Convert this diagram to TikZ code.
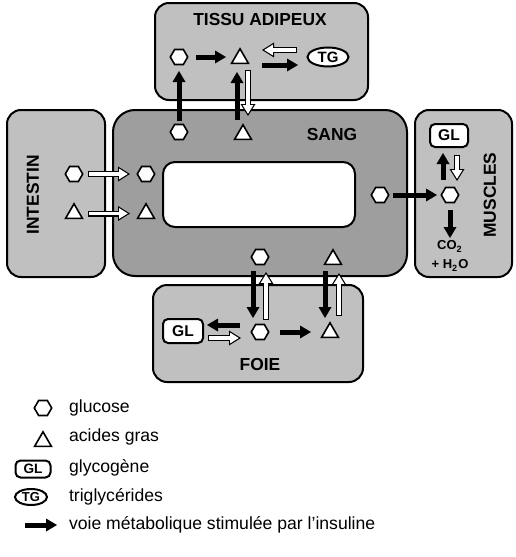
\documentclass[tikz,border=0pt]{standalone}
\usepackage{fontspec}
\setmainfont{Liberation Sans}
\usetikzlibrary{shapes.geometric,arrows.meta,positioning}

\definecolor{organgray}{RGB}{192,192,192}
\definecolor{bloodgray}{RGB}{158,158,158}

\begin{document}
\begin{tikzpicture}[
    x=0.5pt, y=-0.5pt,
    % Block styles
    organ/.style={
        rectangle,
        draw=black,
        line width=1pt,
        fill=organgray,
        rounded corners=7pt
    },
    blood/.style={
        rectangle,
        draw=black,
        line width=1pt,
        fill=bloodgray,
        rounded corners=11pt
    },
    label/.style={font=\bfseries\fontsize{8.7}{10}\selectfont},
    legtext/.style={anchor=west, font=\fontsize{8.8}{10}\selectfont},
    % Molecule styles
    gluc/.style={regular polygon, regular polygon sides=6, draw, line width=0.8pt,
        fill=white, minimum size=8.7pt, inner sep=0pt},
    fatty/.style={regular polygon, regular polygon sides=3, draw, line width=0.8pt,
        fill=white, minimum size=9.7pt, inner sep=0pt},
    glyco/.style={rectangle, draw, line width=1pt, fill=white, rounded corners=2.5pt,
        minimum width=19pt, minimum height=11.5pt, inner sep=0pt,
        font=\bfseries\fontsize{7.8}{8}\selectfont},
    trigly/.style={ellipse, draw, line width=1pt, fill=white, minimum width=20.5pt,
        minimum height=9.5pt, inner sep=0pt, font=\bfseries\fontsize{7.5}{8}\selectfont},
    % Arrow styles
    insulin/.style={draw, line width=2.5pt, -{Triangle[length=5.5pt,width=6.5pt,line width=0pt]}},
    plain/.style={draw=white, line width=1.8pt, shorten >=1.13pt, shorten <=0.6pt,
        -{Triangle[length=4.3pt,width=5.35pt,line width=0pt]},
        preaction={draw=black, line width=3pt, shorten >=0pt, shorten <=0pt,
        -{Triangle[length=6pt,width=7.5pt,line width=0pt]}}}
]
\useasboundingbox (0,0) rectangle (515,557);

% Organs
\node[organ, minimum width=106.5pt, minimum height=48.5pt] (tissu) at (261.5,51.5) {};
\node[organ, minimum width=49pt, minimum height=83.5pt] (intestin) at (56,193.5) {};
\node[blood, minimum width=147pt, minimum height=83pt] (sang) at (260,193) {};
\node[draw, line width=1pt, fill=white, rounded corners=6pt,
    minimum width=96pt, minimum height=32.5pt] (hole) at (259,194.5) {};
\node[organ, minimum width=48.5pt, minimum height=83.5pt] (muscles) at (463.5,193.5) {};
\node[organ, minimum width=105pt, minimum height=48.5pt] (foie) at (258,333.5) {};

\node[label] (tissu_lbl) at (260,20) {TISSU ADIPEUX};
\node[label] (sang_lbl) at (332,135) {SANG};
\node[label] (foie_lbl) at (260,365) {FOIE};
\node[label, rotate=90] (intestin_lbl) at (33,195) {INTESTIN};
\node[label, rotate=90] (muscles_lbl) at (490,195) {MUSCLES};

% Tissu adipeux
\node[gluc] (t_glu) at (179,57) {};
\node[fatty] (t_ag) at (240,58.5) {};
\node[trigly] (t_tg) at (328,57) {TG};

% Sang
\node[gluc] (s_glu_t) at (179,132) {};
\node[fatty] (s_ag_t) at (243,134.5) {};
\node[gluc] (s_glu_l) at (146,174) {};
\node[fatty] (s_ag_l) at (146,213.5) {};
\node[gluc] (s_glu_r) at (380,195) {};
\node[gluc] (s_glu_b) at (260,257) {};
\node[fatty] (s_ag_b) at (333,259.5) {};

% Intestin
\node[gluc] (i_glu) at (74,174) {};
\node[fatty] (i_ag) at (74,213.5) {};

% Muscles
\node[glyco] (m_gl) at (449,135.5) {GL};
\node[gluc] (m_glu) at (450,195) {};
\node[align=center, inner sep=0pt, font=\bfseries\fontsize{6.5}{9.5}\selectfont]
    (m_co) at (450,256) {CO\textsubscript{2}\\+ H\textsubscript{2}O};

% Foie
\node[glyco, minimum width=20pt, minimum height=12pt] (f_gl) at (183,331) {GL};
\node[gluc] (f_glu) at (260,332) {};
\node[fatty] (f_ag) at (330,332.5) {};

% Connections
\draw[insulin] ([shift={(17,0)}]t_glu.center) -- ([shift={(-14,-1.5)}]t_ag.center);
\draw[plain] ([shift={(-31,-7)}]t_tg.center) -- ([shift={(22,-8.5)}]t_ag.center);
\draw[insulin] ([shift={(22,6.5)}]t_ag.center) -- ([shift={(-30,8)}]t_tg.center);
\draw[insulin] ([shift={(0,-11)}]s_glu_t.center) -- ([shift={(0,14)}]t_glu.center);
\draw[insulin] ([shift={(-6,-14.5)}]s_ag_t.center) -- ([shift={(-3,13.5)}]t_ag.center);
\draw[plain] ([shift={(8,11.5)}]t_ag.center) -- ([shift={(5,-18.5)}]s_ag_t.center);

\draw[plain] ([shift={(14,0)}]i_glu.center) -- ([shift={(-16,0)}]s_glu_l.center);
\draw[plain] ([shift={(14,0)}]i_ag.center) -- ([shift={(-16,0)}]s_ag_l.center);

\draw[insulin] ([shift={(13,0)}]s_glu_r.center) -- ([shift={(-13,0)}]m_glu.center);
\draw[insulin] ([shift={(-7,-15)}]m_glu.center) -- ([shift={(-6,17.5)}]m_gl.center);
\draw[plain] ([shift={(8,19.5)}]m_gl.center) -- ([shift={(7,-14)}]m_glu.center);
\draw[insulin] ([shift={(0,15)}]m_glu.center) -- ([shift={(0,-18)}]m_co.center);

\draw[insulin] ([shift={(-7,14)}]s_glu_b.center) -- ([shift={(-7,-14)}]f_glu.center);
\draw[plain] ([shift={(6,-12)}]f_glu.center) -- ([shift={(6,15)}]s_glu_b.center);
\draw[insulin] ([shift={(-8,11.5)}]s_ag_b.center) -- ([shift={(-5,-14.5)}]f_ag.center);
\draw[plain] ([shift={(9,-16.5)}]f_ag.center) -- ([shift={(6,13.5)}]s_ag_b.center);
\draw[insulin] ([shift={(-20,-7)}]f_glu.center) -- ([shift={(24,-6)}]f_gl.center);
\draw[plain] ([shift={(25,7)}]f_gl.center) -- ([shift={(-19,6)}]f_glu.center);
\draw[insulin] ([shift={(20,0)}]f_glu.center) -- ([shift={(-19,-0.5)}]f_ag.center);

% Legend
\node[gluc] (leg_glu) at (43,408) {};
\node[legtext] (leg_glu_txt) at (62,408) {glucose};
\node[fatty] (leg_ag) at (43,441.5) {};
\node[legtext] (leg_ag_txt) at (62,437) {acides gras};
\node[glyco, minimum width=17.5pt, minimum height=8.5pt, font=\bfseries\fontsize{6.8}{8}\selectfont]
    (leg_gl) at (33,469) {GL};
\node[legtext] (leg_gl_txt) at (62,468) {glycogène};
\node[trigly, minimum width=16pt, minimum height=8pt, font=\bfseries\fontsize{6.5}{8}\selectfont]
    (leg_tg) at (31,497) {TG};
\node[legtext] (leg_tg_txt) at (62,497) {triglycérides};
\coordinate (leg_a) at (25,525);
\coordinate (leg_b) at (57,525);
\draw[insulin] (leg_a) -- (leg_b);
\node[legtext] (leg_ins_txt) at (62,525) {voie métabolique stimulée par l’insuline};

\end{tikzpicture}
\end{document}
